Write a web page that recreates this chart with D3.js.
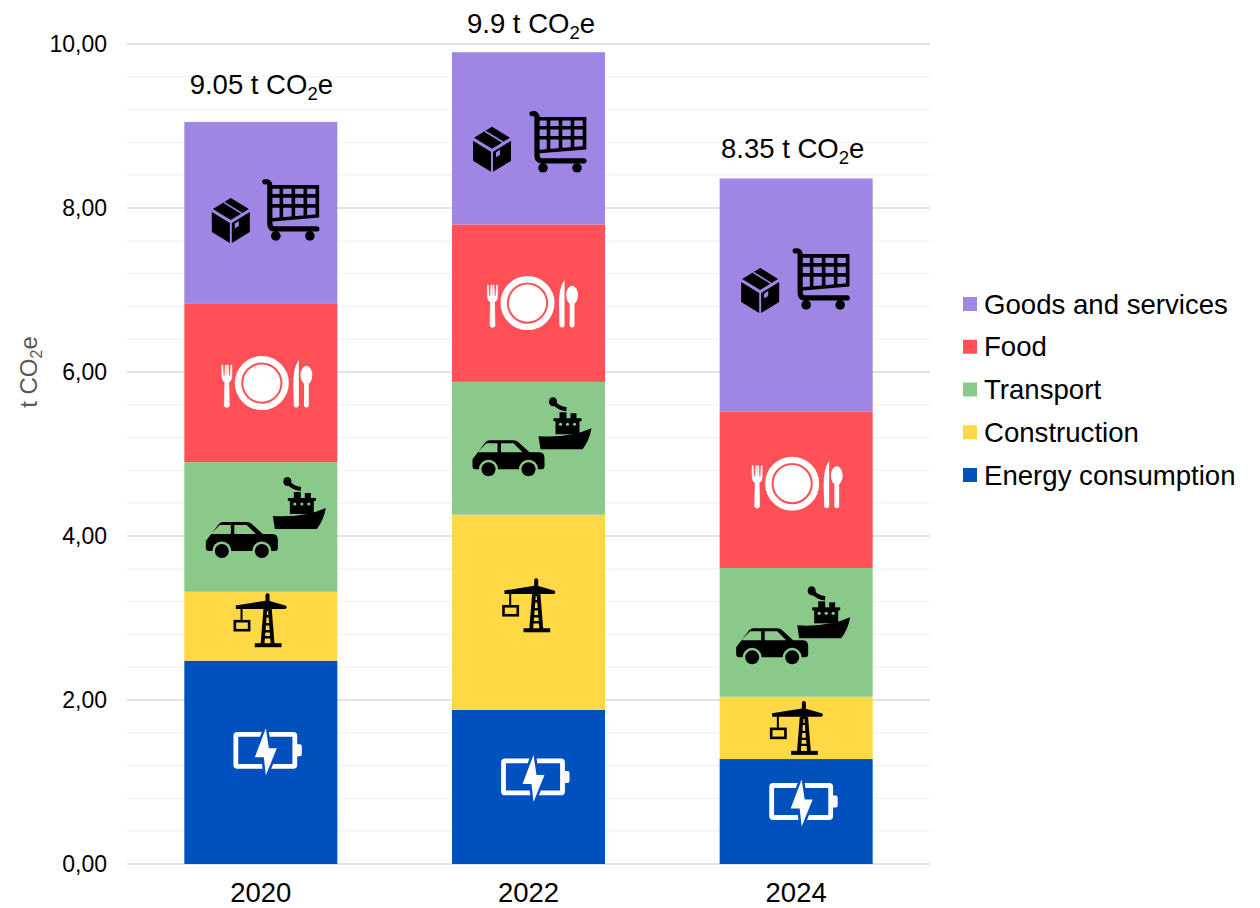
<!DOCTYPE html>
<html>
<head>
<meta charset="utf-8">
<script src="https://d3js.org/d3.v7.min.js"></script>
<style>
  html, body { margin: 0; padding: 0; background: #fff; }
  svg { display: block; }
  text { font-family: "Liberation Sans", Arial, sans-serif; fill: #000; }
</style>
</head>
<body>
<div id="chart"></div>
<script>
// data (t CO2e)
var years = ["2020", "2022", "2024"];
var seriesNames = ["Energy consumption", "Construction", "Transport", "Food", "Goods and services"];
var energy = [2.48, 1.88, 1.28];
var construction = [0.84, 2.38, 0.76];
var transport = [1.58, 1.62, 1.57];
var food = [1.93, 1.92, 1.91];
var goods = [2.22, 2.10, 2.84];
var totalLabels = ["9.05", "9.9", "8.35"];
var yTicks = [0, 2, 4, 6, 8, 10];
var yMinorTicks = [0.4, 0.8, 1.2, 1.6, 2.4, 2.8, 3.2, 3.6, 4.4, 4.8, 5.2, 5.6, 6.4, 6.8, 7.2, 7.6, 8.4, 8.8, 9.2, 9.6];
var legendOrder = ["Goods and services", "Food", "Transport", "Construction", "Energy consumption"];

var colors = d3.scaleOrdinal()
    .domain(seriesNames)
    .range(["#0050be", "#ffd845", "#8bc98a", "#ff5058", "#9f86e4"]);

// where the icons sit, relative to the centre of their segment
var iconPlacement = {
    "Goods and services": [
        [["box", -30, 7], ["cart", 30, -3]],
        [["box", -36.5, 10.5], ["cart", 29.5, 3.5]],
        [["box", -36, -5], ["cart", 25, -16]]
    ],
    "Food": [[["plate", 1, 0]], [["plate", -1, 0]], [["plate", -4, -6]]],
    "Transport": [
        [["car", -19, 13], ["ship", 38, -24]],
        [["car", -20, 10], ["ship", 36, -25]],
        [["car", -24, 14], ["ship", 27, -20]]
    ],
    "Construction": [[["crane", -1, -5]], [["crane", 0, -6]], [["crane", 0, 1]]],
    "Energy consumption": [[["battery", 6, -12]], [["battery", 6, -10]], [["battery", 6.5, -10]]]
};
// total labels: offset from the bar top and from the bar centre
var labelGap = [28, 19, 20];
var labelShift = [0.5, 2.5, -3.5];

var table = years.map(function(y, i) {
    return {
        year: y,
        "Energy consumption": energy[i],
        "Construction": construction[i],
        "Transport": transport[i],
        "Food": food[i],
        "Goods and services": goods[i]
    };
});

var margin = {top: 44, right: 330, bottom: 44, left: 127},
    width = 1260 - margin.left - margin.right,
    height = 908 - margin.top - margin.bottom;

var svg = d3.select("#chart")
    .append("svg")
    .attr("width", 1260)
    .attr("height", 908)
    .append("g")
    .attr("transform", "translate(" + margin.left + "," + margin.top + ")");

var x = d3.scaleBand()
    .domain(years)
    .range([0, width])
    .paddingInner(0.4284)
    .paddingOuter(0.2142);

var y = d3.scaleLinear()
    .domain([0, 10])
    .range([height, 0]);

// gridlines
svg.selectAll("line.minor")
    .data(yMinorTicks)
    .enter()
    .append("line")
    .attr("class", "minor")
    .attr("x1", 0).attr("x2", width)
    .attr("y1", function(d) { return y(d); })
    .attr("y2", function(d) { return y(d); })
    .attr("stroke", "#f2f2f2")
    .attr("stroke-width", 1.3);

svg.selectAll("line.major")
    .data(yTicks)
    .enter()
    .append("line")
    .attr("class", "major")
    .attr("x1", 0).attr("x2", width)
    .attr("y1", function(d) { return y(d); })
    .attr("y2", function(d) { return y(d); })
    .attr("stroke", "#d9d9d9")
    .attr("stroke-width", 1.3);

// axes
var commaFormat = d3.formatLocale({decimal: ",", thousands: ".", grouping: [3], currency: ["", ""]}).format(".2f");

var yAxis = svg.append("g")
    .call(d3.axisLeft(y).tickValues(yTicks).tickFormat(commaFormat).tickSize(0).tickPadding(20));
yAxis.select(".domain").remove();
yAxis.selectAll("text").style("font-size", "23px").style("font-family", "'Liberation Sans', Arial, sans-serif");

var xAxis = svg.append("g")
    .attr("transform", "translate(0," + height + ")")
    .call(d3.axisBottom(x).tickSize(0).tickPadding(18.5));
xAxis.select(".domain").remove();
xAxis.selectAll("text").style("font-size", "27.5px").style("font-family", "'Liberation Sans', Arial, sans-serif");

// y axis title
var yTitle = svg.append("text")
    .attr("transform", "translate(-90," + y(6.0) + ") rotate(-90)")
    .attr("text-anchor", "middle")
    .style("font-size", "24px")
    .style("fill", "#595959");
yTitle.append("tspan").text("t CO");
yTitle.append("tspan").text("2").attr("dy", 5).style("font-size", "16px");
yTitle.append("tspan").text("e").attr("dy", -5);

// bars
var series = d3.stack().keys(seriesNames)(table);

var layers = svg.selectAll("g.layer")
    .data(series)
    .enter()
    .append("g")
    .attr("class", "layer")
    .attr("fill", function(d) { return colors(d.key); });

layers.selectAll("rect")
    .data(function(d) { return d; })
    .enter()
    .append("rect")
    .attr("x", function(d) { return x(d.data.year); })
    .attr("y", function(d) { return y(d[1]); })
    .attr("width", x.bandwidth())
    .attr("height", function(d) { return y(d[0]) - y(d[1]); });

// icons, drawn around 0,0
var iconDraw = {
    box: function(g, bg) {
        g.append("path").attr("d", "M-18,-11L0,-22L18,-11L0,0Z").attr("fill", "#000");
        g.append("path").attr("d", "M-19,-8L-1,3L-1,23L-19,12Z").attr("fill", "#000");
        g.append("path").attr("d", "M1,3L19,-8L19,12L1,23Z").attr("fill", "#000");
        g.append("path").attr("d", "M-7,-17.5L11,-6.5").attr("stroke", bg).attr("stroke-width", 1.6);
        g.append("path").attr("d", "M4,3.5L8,1L8,6L4,8.5Z").attr("fill", bg);
    },
    cart: function(g) {
        g.append("path")
            .attr("d", "M-26,-28Q-21,-29 -21,-24L-21,14Q-21,19 -16,19L26,19")
            .attr("fill", "none").attr("stroke", "#000").attr("stroke-width", 5.2).attr("stroke-linecap", "round");
        g.append("path")
            .attr("d", "M-21,-23L26.5,-23L26.5,6L-21,10M-21,-14L26.5,-14M-21,-4L26.5,-4M-9.5,-23L-9.5,9M2.5,-23L2.5,8M14.5,-23L14.5,7")
            .attr("fill", "none").attr("stroke", "#000").attr("stroke-width", 3.6);
        g.append("circle").attr("cx", -15).attr("cy", 26).attr("r", 4.8).attr("fill", "#000");
        g.append("circle").attr("cx", 19).attr("cy", 26).attr("r", 4.8).attr("fill", "#000");
    },
    plate: function(g) {
        g.append("circle").attr("r", 23.8).attr("fill", "none").attr("stroke", "#fff").attr("stroke-width", 6.4);
        g.append("circle").attr("r", 18.6).attr("fill", "#fff");
        // fork
        g.append("path")
            .attr("d", "M-40,-18L-40,-7Q-40,-2 -37,-1L-37.5,23Q-35,26 -32.5,23L-33,-1Q-30,-2 -30,-7L-30,-18L-31,-18L-31.5,-7L-33,-7L-33.5,-18L-34.5,-18L-34.7,-7L-35.3,-7L-35.5,-18L-36.5,-18L-37,-7L-38.5,-7L-39,-18Z")
            .attr("fill", "#fff").attr("stroke", "#fff").attr("stroke-width", 0.6);
        // knife
        g.append("path").attr("d", "M37,-23Q31,-15 31.5,3L32,23Q34.5,26 37,23Z").attr("fill", "#fff");
        // spoon
        g.append("ellipse").attr("cx", 44.6).attr("cy", -8).attr("rx", 5.9).attr("ry", 9.4).attr("fill", "#fff");
        g.append("path").attr("d", "M42.2,-4L42.2,23Q44.6,26 47,23L47,-4Z").attr("fill", "#fff");
    },
    car: function(g, bg) {
        g.append("path")
            .attr("d", "M-36,1L-23,-16Q-21,-18 -19,-18L5,-18Q8,-18 10,-16L21,-6L31,-6Q36,-6 36,0L36,8Q36,11 33,11L-33,11Q-36,11 -36,8Z")
            .attr("fill", "#000");
        g.append("path").attr("d", "M-31,-6L-22,-15L-11,-15L-11,-6Z").attr("fill", bg);
        g.append("path").attr("d", "M-7.5,-15L5,-15L14,-6L-7.5,-6Z").attr("fill", bg);
        [-20, 20].forEach(function(cx) {
            g.append("circle").attr("cx", cx).attr("cy", 11).attr("r", 9.5).attr("fill", bg);
            g.append("circle").attr("cx", cx).attr("cy", 11).attr("r", 7).attr("fill", "#000");
        });
    },
    ship: function(g, bg) {
        g.append("path").attr("d", "M-26,13Q5,15 27,5Q25,17 18,26L-24,26Z").attr("fill", "#000");
        g.append("rect").attr("x", -9).attr("y", -3).attr("width", 24).attr("height", 14).attr("fill", "#000");
        g.append("rect").attr("x", -11).attr("y", -5).attr("width", 28).attr("height", 3).attr("fill", "#000");
        g.append("rect").attr("x", -5).attr("y", -11).attr("width", 7).attr("height", 7).attr("fill", "#000");
        g.append("rect").attr("x", 6).attr("y", -10).attr("width", 6).attr("height", 6).attr("fill", "#000");
        g.append("ellipse").attr("cx", -11.5).attr("cy", -21.5).attr("rx", 4).attr("ry", 4.6).attr("fill", "#000");
        g.append("path").attr("d", "M-10,-20Q-6,-15 2,-14").attr("fill", "none").attr("stroke", "#000").attr("stroke-width", 4.2);
        [-4, 3, 10].forEach(function(cx) {
            g.append("circle").attr("cx", cx).attr("cy", 1).attr("r", 1.6).attr("fill", bg);
        });
    },
    crane: function(g) {
        g.append("path").attr("d", "M-24,-14L7.7,-19L25,-14L-24,-14").attr("fill", "#000").attr("stroke", "#000").attr("stroke-width", 3.5).attr("stroke-linejoin", "round");
        g.append("path").attr("d", "M7.7,-26L7.7,-12").attr("stroke", "#000").attr("stroke-width", 4).attr("stroke-linecap", "round");
        g.append("path").attr("d", "M5.5,-12L2.7,23M10,-12L12.8,23").attr("stroke", "#000").attr("stroke-width", 3.8);
        g.append("path").attr("d", "M4.5,-5L11,-5M4,3L11.5,3M3.5,10L12,10M3.2,16L12.5,16").attr("stroke", "#000").attr("stroke-width", 2.4);
        g.append("path").attr("d", "M-5,24L21.7,24").attr("stroke", "#000").attr("stroke-width", 4);
        g.append("path").attr("d", "M-18.3,-13L-18.3,0").attr("stroke", "#000").attr("stroke-width", 2);
        g.append("rect").attr("x", -25).attr("y", 0).attr("width", 14.3).attr("height", 9).attr("fill", "none").attr("stroke", "#000").attr("stroke-width", 2.6);
    },
    battery: function(g, bg) {
        g.append("rect").attr("x", -31).attr("y", -16).attr("width", 59).attr("height", 32).attr("rx", 1.5).attr("fill", "none").attr("stroke", "#fff").attr("stroke-width", 4.8);
        g.append("path").attr("d", "M30,-6L33,-6Q35,-6 35,-4L35,4Q35,6 33,6L30,6Z").attr("fill", "#fff");
        g.append("path").attr("d", "M-1,-22L-12,7L-3,7L-1,25L10,-2L2,-2Z")
            .attr("fill", "#fff").attr("stroke", bg).attr("stroke-width", 5).attr("paint-order", "stroke").attr("stroke-linejoin", "miter");
    }
};

series.forEach(function(s) {
    s.forEach(function(d, i) {
        var cx = x(d.data.year) + x.bandwidth() / 2,
            cy = (y(d[0]) + y(d[1])) / 2;
        iconPlacement[s.key][i].forEach(function(ic) {
            var g = svg.append("g")
                .attr("class", "icon")
                .attr("transform", "translate(" + (cx + ic[1]) + "," + (cy + ic[2]) + ")");
            iconDraw[ic[0]](g, colors(s.key));
        });
    });
});

// totals above the bars
var totals = svg.selectAll("text.total")
    .data(table)
    .enter()
    .append("text")
    .attr("class", "total")
    .attr("x", function(d, i) { return x(d.year) + x.bandwidth() / 2 + labelShift[i]; })
    .attr("y", function(d, i) { return y(d3.sum(seriesNames, function(k) { return d[k]; })) - labelGap[i]; })
    .attr("text-anchor", "middle")
    .style("font-size", "27.5px");
totals.append("tspan").text(function(d, i) { return totalLabels[i] + " t CO"; });
totals.append("tspan").text("2").attr("dy", 6).style("font-size", "18.5px");
totals.append("tspan").text("e").attr("dy", -6);

// legend
var legendY = d3.scalePoint().domain(legendOrder).range([304 - margin.top, 475 - margin.top]);

var legend = svg.selectAll("g.legend")
    .data(legendOrder)
    .enter()
    .append("g")
    .attr("class", "legend")
    .attr("transform", function(d) { return "translate(" + (963 - margin.left) + "," + legendY(d) + ")"; });

legend.append("rect")
    .attr("y", -7)
    .attr("width", 14)
    .attr("height", 14)
    .attr("fill", function(d) { return colors(d); });

legend.append("text")
    .attr("x", 21)
    .attr("y", 9.5)
    .style("font-size", "27.6px")
    .text(function(d) { return d; });
</script>
</body>
</html>
